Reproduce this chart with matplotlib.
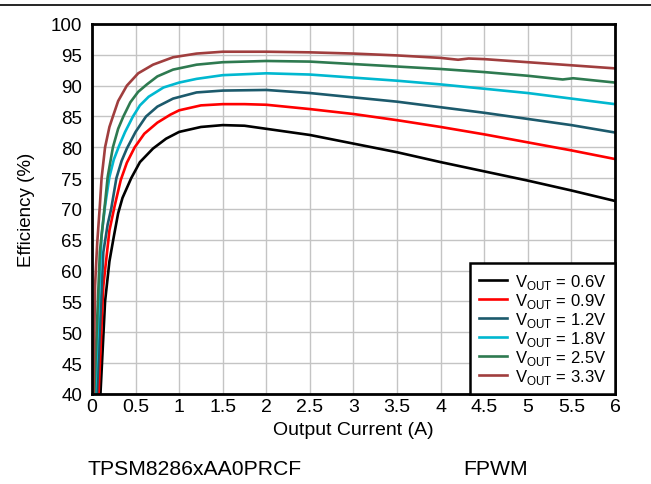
import matplotlib.pyplot as plt
from matplotlib.lines import Line2D

plt.rcParams["font.family"] = ["Liberation Sans", "DejaVu Sans"]
plt.rcParams["mathtext.fontset"] = "custom"
plt.rcParams["mathtext.rm"] = "Liberation Sans"

# Efficiency curves (current in A, efficiency in %)
LABELS = ["0.6V", "0.9V", "1.2V", "1.8V", "2.5V", "3.3V"]
COLORS = ["#000000", "#ff0000", "#1c5a6c", "#00b8d0", "#2e7a50", "#a03e3e"]

I_06 = [0.09, 0.15, 0.2, 0.25, 0.3, 0.35, 0.45, 0.55, 0.7, 0.85, 1.0, 1.25, 1.5, 1.75, 1.9, 2.0,
        2.5, 3.0, 3.5, 4.0, 4.5, 5.0, 5.5, 6.0]
E_06 = [38, 55, 61.5, 65.5, 69.3, 71.8, 75.0, 77.6, 79.8, 81.4, 82.5, 83.3, 83.6, 83.5, 83.2, 83.0,
        82.0, 80.6, 79.2, 77.6, 76.1, 74.6, 73.0, 71.3]

I_09 = [0.07, 0.13, 0.2, 0.26, 0.33, 0.4, 0.49, 0.6, 0.75, 0.9, 1.0, 1.25, 1.5, 1.75, 2.0,
        2.5, 3.0, 3.5, 4.0, 4.5, 5.0, 5.5, 6.0]
E_09 = [38, 57.5, 66.5, 70.5, 74.7, 77.5, 80.0, 82.2, 84.0, 85.3, 86.0, 86.8, 87.0, 87.0, 86.9,
        86.2, 85.4, 84.4, 83.3, 82.1, 80.8, 79.5, 78.1]

I_12 = [0.05, 0.13, 0.18, 0.22, 0.28, 0.34, 0.4, 0.5, 0.62, 0.75, 0.93, 1.2, 1.5, 2.0,
        2.5, 3.0, 3.5, 4.0, 4.5, 5.0, 5.5, 6.0]
E_12 = [38, 63, 67.5, 70.0, 75.0, 77.8, 79.8, 82.5, 85.0, 86.6, 87.9, 88.9, 89.2, 89.3,
        88.8, 88.1, 87.4, 86.5, 85.6, 84.6, 83.6, 82.4]

I_18 = [0.03, 0.11, 0.15, 0.2, 0.25, 0.31, 0.38, 0.47, 0.55, 0.65, 0.82, 1.0, 1.2, 1.5, 2.0,
        2.5, 3.0, 3.5, 4.0, 4.5, 5.0, 5.5, 6.0]
E_18 = [38, 65.7, 70.5, 75.2, 78.0, 80.2, 82.5, 85.0, 86.8, 88.2, 89.7, 90.5, 91.1, 91.7, 92.0,
        91.8, 91.3, 90.8, 90.2, 89.5, 88.8, 87.9, 87.0]

I_25 = [0.02, 0.09, 0.15, 0.18, 0.24, 0.3, 0.36, 0.44, 0.53, 0.63, 0.75, 0.93, 1.2, 1.5, 2.0,
        2.5, 3.0, 3.5, 4.0, 4.5, 5.0, 5.4, 5.52, 6.0]
E_25 = [38, 63, 71.0, 75.2, 80.0, 83.0, 85.0, 87.3, 89.0, 90.2, 91.5, 92.6, 93.4, 93.8, 94.0,
        93.9, 93.5, 93.1, 92.7, 92.2, 91.6, 91.0, 91.2, 90.5]

I_33 = [0.015, 0.035, 0.06, 0.09, 0.11, 0.15, 0.2, 0.24, 0.3, 0.4, 0.53, 0.7, 0.93, 1.2, 1.5, 2.0,
        2.5, 3.0, 3.5, 4.0, 4.2, 4.32, 4.5, 5.0, 5.5, 6.0]
E_33 = [38, 57.5, 64.5, 70.5, 75.0, 80.0, 83.3, 85.0, 87.5, 90.0, 92.0, 93.4, 94.6, 95.2, 95.5, 95.5,
        95.4, 95.2, 94.9, 94.5, 94.2, 94.4, 94.3, 93.8, 93.3, 92.8]

SERIES = [(I_06, E_06), (I_09, E_09), (I_12, E_12), (I_18, E_18), (I_25, E_25), (I_33, E_33)]

X_TICKS = [0, 0.5, 1, 1.5, 2, 2.5, 3, 3.5, 4, 4.5, 5, 5.5, 6]
Y_TICKS = list(range(40, 101, 5))


def main() -> None:
    fig = plt.figure(figsize=(6.51, 4.85), dpi=100)
    ax = fig.add_axes([0.1413, 0.1856, 0.8034, 0.7629])

    for (cur, eff), label, color in zip(SERIES, LABELS, COLORS):
        ax.plot(cur, eff, color=color, lw=1.9, label=r"V$_{\mathrm{OUT}}$ = " + label)

    ax.set_xlim(0, 6)
    ax.set_ylim(40, 100)
    ax.set_xticks(X_TICKS)
    ax.set_xticklabels([f"{t:g}" for t in X_TICKS])
    ax.set_yticks(Y_TICKS)
    ax.tick_params(axis="x", length=0, pad=3, labelsize=14)
    ax.tick_params(axis="y", length=0, pad=7, labelsize=13.5)
    ax.grid(True, color="#c4c4c4", lw=1.0)
    ax.set_axisbelow(True)
    for spine in ax.spines.values():
        spine.set_linewidth(2.0)
        spine.set_color("black")

    ax.set_xlabel("Output Current (A)", fontsize=14, va="center")
    ax.xaxis.set_label_coords(0.5, -0.097)
    ax.set_ylabel("Efficiency (%)", fontsize=13.5, va="center")
    ax.yaxis.set_label_coords(-0.126, 0.5)

    leg = ax.legend(loc="lower right", fontsize=12, frameon=True, fancybox=False,
                    borderaxespad=0.0, handlelength=1.7, labelspacing=0.0,
                    borderpad=0.5, handletextpad=0.5)
    leg.get_frame().set_edgecolor("black")
    leg.get_frame().set_linewidth(1.8)
    leg.get_frame().set_alpha(1.0)

    fig.add_artist(Line2D([0, 1], [0.9876, 0.9876], transform=fig.transFigure,
                          color="black", lw=1.2))
    fig.text(0.135, 0.031, "TPSM8286xAA0PRCF", fontsize=15.2, va="center", ha="left")
    fig.text(0.711, 0.031, "FPWM", fontsize=15.2, va="center", ha="left")

    fig.savefig("out.png", dpi=100)
    plt.close(fig)


if __name__ == "__main__":
    main()
